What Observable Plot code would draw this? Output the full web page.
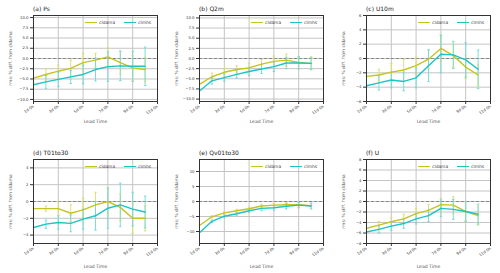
<!DOCTYPE html>
<html>
<head>
<meta charset="utf-8">
<script src="https://cdn.jsdelivr.net/npm/d3@7"></script>
<script src="https://cdn.jsdelivr.net/npm/@observablehq/plot@0.6"></script>
<style>
  body { margin: 0; background: #fff; }
  #root { position: relative; width: 500px; height: 273px; background: #fff; overflow: hidden; font-family: "DejaVu Sans", sans-serif; }
  .pnl { position: absolute; }
  .ttl { position: absolute; font-size: 6px; color: #222; white-space: nowrap; }
  .lg { position: absolute; font-size: 4.4px; color: #444; white-space: nowrap; line-height: 5px; }
  .lg span.sw { display: inline-block; width: 12px; height: 1.4px; vertical-align: middle; margin-right: 2px; }
</style>
</head>
<body>
<div id="root"></div>
<script>
// ---- data ----
const leadDays = [1, 2, 3, 4, 5, 6, 7, 8, 9, 10];
const xTicks = [1, 3, 5, 7, 9, 11];
const xTickLabels = ["1d 0h", "3d 0h", "5d 0h", "7d 0h", "9d 0h", "11d 0h"];
const seriesNames = ["cldama", "clmhs"];
const panelTitles = ["(a) Ps", "(b) Q2m", "(c) U10m", "(d) T01to30", "(e) Qv01to30", "(f) U"];

// (a) Ps
const psCldama = [-4.8, -3.9, -3.1, -2.4, -1.0, -0.4, 0.4, -1.0, -2.3, -2.7];
const psClmhs  = [-6.4, -5.7, -5.1, -4.5, -3.9, -2.7, -2.0, -1.8, -1.9, -1.9];
const psCldamaErr = [0, 1.4, 1.5, 2.0, 2.3, 1.7, 2.2, 2.8, 3.0, 3.0];
const psClmhsErr  = [0, 1.6, 1.8, 1.6, 2.3, 2.8, 3.6, 3.6, 3.7, 4.7];
const psTicks = [-10, -7.5, -5, -2.5, 0, 2.5, 5, 7.5, 10];

// (b) Q2m
const q2Cldama = [-6.4, -4.5, -3.4, -2.7, -2.3, -1.4, -0.7, -0.4, -1.0, -1.2];
const q2Clmhs  = [-8.0, -5.5, -4.7, -3.9, -3.2, -2.6, -2.0, -1.1, -1.1, -1.2];
const q2CldamaErr = [0, 0.9, 0.9, 0.9, 1.1, 1.1, 1.3, 1.5, 1.5, 1.6];
const q2ClmhsErr  = [0, 0.8, 0.9, 0.9, 1.0, 1.1, 1.2, 1.4, 1.5, 1.5];
const q2Ticks = [-10, -7.5, -5, -2.5, 0, 2.5, 5, 7.5, 10];

// (c) U10m
const u10Cldama = [-2.5, -2.3, -1.9, -1.6, -1.0, -0.1, 1.4, 0.4, -1.2, -2.3];
const u10Clmhs  = [-3.8, -3.4, -3.0, -3.2, -2.7, -1.0, 0.6, 0.5, -0.2, -1.5];
const u10CldamaErr = [0, 0.8, 1.2, 1.5, 1.2, 1.3, 1.9, 1.6, 1.6, 1.5];
const u10ClmhsErr  = [0, 1.0, 1.1, 1.3, 1.4, 2.2, 2.6, 1.9, 2.4, 2.7];
const u10Ticks = [-6, -4, -2, 0, 2, 4, 6];

// (d) T01to30
const tCldama = [-0.85, -0.85, -0.85, -1.4, -1.0, -0.4, 0.0, -0.7, -2.0, -2.0];
const tClmhs  = [-3.1, -2.7, -2.5, -2.6, -2.1, -1.7, -0.8, -0.4, -0.9, -1.25];
const tCldamaErr = [0, 0.3, 0.8, 1.0, 1.4, 1.5, 1.6, 1.6, 1.8, 1.5];
const tClmhsErr  = [0, 0.5, 0.8, 1.0, 1.2, 1.7, 2.4, 2.6, 2.0, 1.9];
const tTicks = [-4, -2, 0, 2, 4];

// (e) Qv01to30
const qvCldama = [-8.0, -5.1, -3.8, -3.1, -2.4, -1.5, -1.2, -1.1, -1.1, -1.4];
const qvClmhs  = [-10.4, -6.6, -4.9, -4.1, -3.1, -2.3, -2.1, -1.6, -1.2, -1.5];
const qvCldamaErr = [0, 0.4, 0.4, 0.5, 0.5, 0.6, 0.6, 0.7, 0.8, 0.8];
const qvClmhsErr  = [0, 0.4, 0.5, 0.5, 0.6, 0.7, 0.8, 0.9, 0.9, 1.0];
const qvTicks = [-10, -5, 0, 5, 10];

// (f) U
const uCldama = [-5.1, -4.5, -3.85, -3.3, -2.3, -1.7, -0.6, -0.7, -1.9, -2.7];
const uClmhs  = [-5.8, -5.3, -4.7, -4.2, -3.3, -2.7, -1.3, -1.5, -1.9, -2.4];
const uCldamaErr = [0, 0.7, 0.8, 0.9, 1.0, 1.1, 1.2, 1.6, 1.8, 1.8];
const uClmhsErr  = [0, 0.7, 0.8, 0.9, 1.0, 1.1, 1.6, 1.9, 1.9, 1.9];
const uTicks = [-8, -6, -4, -2, 0, 2, 4, 6, 8];

// ---- styling ----
const lineColor = {cldama: "#c6c41e", clmhs: "#1dc3c6"};
const errColor = {cldama: "#dcdc6a", clmhs: "#6cd9db"};

const panels = [
  {title: panelTitles[0], a: psCldama, b: psClmhs, ea: psCldamaErr, eb: psClmhsErr, ticks: psTicks, domain: [-10.5, 10.5], fmt: d3.format(".1f"), col: 0, row: 0},
  {title: panelTitles[1], a: q2Cldama, b: q2Clmhs, ea: q2CldamaErr, eb: q2ClmhsErr, ticks: q2Ticks, domain: [-10.6, 10.6], fmt: d3.format(".1f"), col: 1, row: 0},
  {title: panelTitles[2], a: u10Cldama, b: u10Clmhs, ea: u10CldamaErr, eb: u10ClmhsErr, ticks: u10Ticks, domain: [-6, 6], fmt: d3.format("d"), col: 2, row: 0},
  {title: panelTitles[3], a: tCldama, b: tClmhs, ea: tCldamaErr, eb: tClmhsErr, ticks: tTicks, domain: [-5, 5], fmt: d3.format("d"), col: 0, row: 1},
  {title: panelTitles[4], a: qvCldama, b: qvClmhs, ea: qvCldamaErr, eb: qvClmhsErr, ticks: qvTicks, domain: [-14, 14], fmt: d3.format("d"), col: 1, row: 1},
  {title: panelTitles[5], a: uCldama, b: uClmhs, ea: uCldamaErr, eb: uClmhsErr, ticks: uTicks, domain: [-8, 8], fmt: d3.format("d"), col: 2, row: 1}
];

const root = document.getElementById("root");
const colX = [0, 166, 333];
const rowY = [0, 136];
const geom = [
  {h: 136, mt: 15, mb: 35, lo: 21.5},
  {h: 137, mt: 23, mb: 30, lo: 24.5}
];
const W = 167, ML = 33, MR = 10;
const cap = 0.1;

for (const p of panels) {
  const g = geom[p.row];
  const rows = [];
  leadDays.forEach((d, i) => {
    rows.push({day: d, v: p.a[i], e: p.ea[i], s: seriesNames[0]});
    rows.push({day: d, v: p.b[i], e: p.eb[i], s: seriesNames[1]});
  });
  const errRows = rows.filter(r => r.e > 0);
  const ec = r => errColor[r.s];
  const chart = Plot.plot({
    width: W, height: g.h,
    marginLeft: ML, marginRight: MR, marginTop: g.mt, marginBottom: g.mb,
    style: {fontFamily: "DejaVu Sans, sans-serif", fontSize: "4px", background: "transparent", color: "#333", overflow: "visible"},
    x: {domain: [1, 11]},
    y: {domain: p.domain},
    marks: [
      Plot.gridX(xTicks, {stroke: "#c4c4c4", strokeOpacity: 1, strokeWidth: 1}),
      Plot.gridY(p.ticks, {stroke: "#c4c4c4", strokeOpacity: 1, strokeWidth: 1}),
      Plot.ruleY([0], {stroke: "#888", strokeWidth: 1, strokeDasharray: "3,2"}),
      Plot.link(errRows, {x1: "day", x2: "day", y1: r => r.v - r.e, y2: r => r.v + r.e, stroke: ec, strokeWidth: 0.9}),
      Plot.link(errRows, {x1: r => r.day - cap, x2: r => r.day + cap, y1: r => r.v + r.e, y2: r => r.v + r.e, stroke: ec, strokeWidth: 0.9}),
      Plot.link(errRows, {x1: r => r.day - cap, x2: r => r.day + cap, y1: r => r.v - r.e, y2: r => r.v - r.e, stroke: ec, strokeWidth: 0.9}),
      Plot.line(rows, {x: "day", y: "v", z: "s", stroke: r => lineColor[r.s], strokeWidth: 1.4}),
      Plot.frame({stroke: "#333", strokeWidth: 1}),
      Plot.axisX({ticks: xTicks, tickFormat: d => xTickLabels[xTicks.indexOf(d)], tickRotate: -35, tickSize: 3, tickPadding: 1.5, stroke: "#333",
        fontSize: "3.8px", label: null}),
      Plot.axisX({ticks: [], label: "Lead Time", labelAnchor: "center", labelArrow: "none", labelOffset: g.lo, fontSize: "4.6px", tickSize: 0, fill: "#555"}),
      Plot.axisY({ticks: p.ticks, tickFormat: p.fmt, tickSize: 3, tickPadding: 2, stroke: "#333", fontSize: "3.8px", label: null}),
      Plot.axisY({ticks: [], label: "rms: % diff. from cldama", labelAnchor: "center", labelArrow: "none", labelOffset: 25, fontSize: "4.4px", tickSize: 0, fill: "#555"})
    ]
  });
  chart.classList.add("pnl");
  chart.style.left = colX[p.col] + "px";
  chart.style.top = rowY[p.row] + "px";
  root.appendChild(chart);

  const fx = colX[p.col] + ML;
  const fy = rowY[p.row] + g.mt;
  const t = document.createElement("div");
  t.className = "ttl";
  t.textContent = p.title;
  t.style.left = fx + "px";
  t.style.top = (fy - 10) + "px";
  root.appendChild(t);

  const offs = [52, 91];
  seriesNames.forEach((s, i) => {
    const lg = document.createElement("div");
    lg.className = "lg";
    lg.style.left = (fx + offs[i]) + "px";
    lg.style.top = (fy + 4.5) + "px";
    lg.innerHTML = `<span class="sw" style="background:${lineColor[s]}"></span>${s}`;
    root.appendChild(lg);
  });
}
</script>
</body>
</html>
